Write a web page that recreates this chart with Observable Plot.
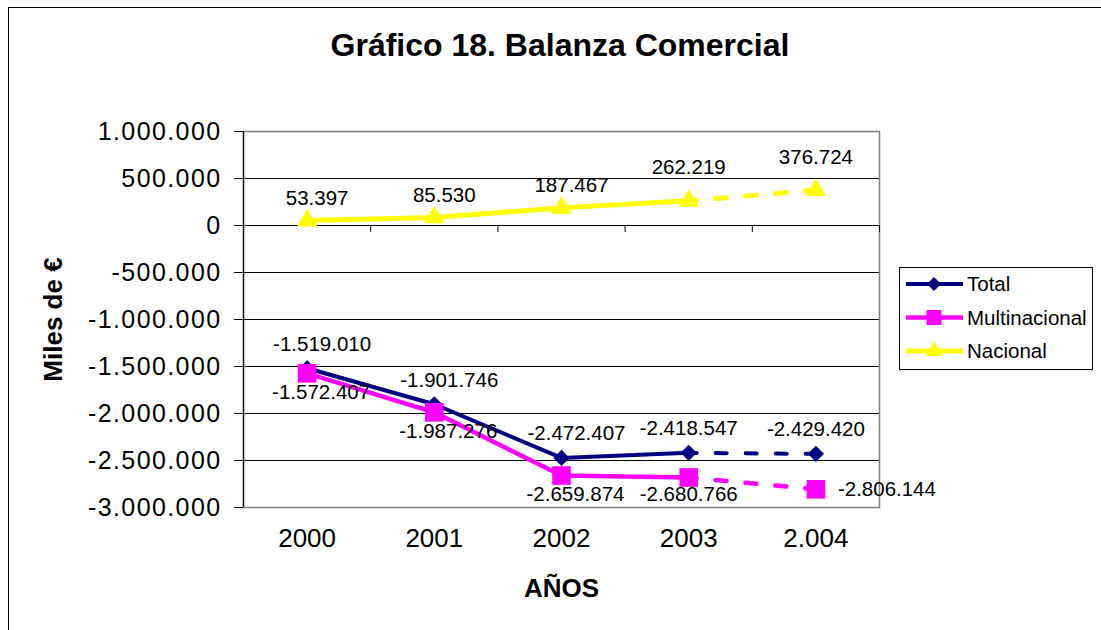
<!DOCTYPE html>
<html>
<head>
<meta charset="utf-8">
<script src="https://cdn.jsdelivr.net/npm/d3@7"></script>
<script src="https://cdn.jsdelivr.net/npm/@observablehq/plot@0.6"></script>
<style>
  body { margin: 0; background: #fff; font-family: "Liberation Sans", Arial, sans-serif; }
  #wrap { position: relative; width: 1101px; height: 630px; overflow: hidden; background: #fff; }
  #outer { position: absolute; left: 8px; top: 7px; width: 1200px; height: 700px; border: 1px solid #000; box-sizing: border-box; }
  #title { position: absolute; left: 0; top: 25px; width: 1120px; text-align: center; font-weight: bold; font-size: 32px; line-height: 40px; color: #000; }
  #chart { position: absolute; left: 0; top: 100px; }
  #legend { position: absolute; left: 899px; top: 267px; }
  #chart g[aria-label="y-axis tick label"] text { letter-spacing: 1.4px; }
</style>
</head>
<body>
<div id="wrap">
  <div id="outer"></div>
  <div id="title">Gráfico 18. Balanza Comercial</div>
  <div id="chart"></div>
  <div id="legend"></div>
</div>
<script>
// ---- data ----
const years = ["2000", "2001", "2002", "2003", "2.004"];
const total = [-1519010, -1901746, -2472407, -2418547, -2429420];
const multinacional = [-1572407, -1987276, -2659874, -2680766, -2806144];
const nacional = [53397, 85530, 187467, 262219, 376724];
const seriesNames = ["Total", "Multinacional", "Nacional"];
const seriesColors = ["#000080", "#FF00FF", "#FFFF00"];
const yTicks = [1000000, 500000, 0, -500000, -1000000, -1500000, -2000000, -2500000, -3000000];
const yLabel = "Miles de €";
const xLabel = "AÑOS";

// ---- helpers ----
const fmt = d3.formatLocale({decimal: ",", thousands: ".", grouping: [3], currency: ["", "€"], minus: "-"}).format(",d");
const seriesValues = [total, multinacional, nacional];
const rows = [];
seriesValues.forEach((vals, s) => vals.forEach((v, i) => rows.push({serie: seriesNames[s], s, i, value: v})));
const bySerie = s => rows.filter(d => d.s === s);
const idx = years.map((_, i) => i);
const last = years.length - 1;
const boundaries = idx.map(i => i + 0.5);

const symbols = ["diamond2", "square", "triangle"];
const radii = [7.3, 10.5, 7.6];
const widths = [4, 4.5, 5];
const dash = "11,19";

function seriesMarks(s) {
  const data = bySerie(s);
  const c = seriesColors[s];
  return [
    Plot.line(data.filter(d => d.i <= last - 1), {x: "i", y: "value", stroke: c, strokeWidth: widths[s], strokeLinejoin: "round"}),
    Plot.line(data.filter(d => d.i >= last - 1), {x: "i", y: "value", stroke: c, strokeWidth: widths[s], strokeDasharray: dash, strokeDashoffset: 3}),
    Plot.dot(data, {x: "i", y: "value", symbol: symbols[s], r: radii[s], fill: c, stroke: "none"})
  ];
}
const lab = {fontSize: 20.5, fill: "#000", text: d => fmt(d.value), x: "i", y: "value"};

const chart = Plot.plot({
  width: 1101,
  height: 530,
  marginLeft: 243,
  marginRight: 222,
  marginTop: 31,
  marginBottom: 123,
  style: {background: "transparent", fontFamily: "Liberation Sans, Arial, sans-serif", color: "#000", overflow: "visible"},
  x: {domain: [-0.5, years.length - 0.5], axis: null},
  y: {domain: [d3.min(yTicks), d3.max(yTicks)], axis: null},
  marks: [
    Plot.ruleY(yTicks, {stroke: "#000", strokeWidth: 1}),
    Plot.frame({stroke: "#808080", strokeWidth: 1.5}),
    Plot.ruleX([-0.5], {stroke: "#000", strokeWidth: 1.2}),
    Plot.ruleX(boundaries, {y1: 0, y2: 0, insetBottom: -7, stroke: "#000"}),
    Plot.axisY({ticks: yTicks, tickFormat: fmt, tickSize: 9, tickPadding: 13, fontSize: 25, label: null}),
    Plot.axisX({ticks: idx, tickFormat: i => years[i], tickSize: 0, tickPadding: 21, fontSize: 26, label: null}),
    Plot.text([xLabel], {frameAnchor: "bottom", textAnchor: "middle", lineAnchor: "middle", dy: 81, fontSize: 26, fontWeight: "bold"}),
    Plot.text([yLabel], {frameAnchor: "left", textAnchor: "middle", lineAnchor: "middle", rotate: -90, dx: -190, fontSize: 26, fontWeight: "bold"}),
    ...seriesMarks(0),
    ...seriesMarks(1),
    ...seriesMarks(2),
    // Total labels (above)
    Plot.text(bySerie(0).filter(d => d.i <= 2), {...lab, dx: 15, dy: -24}),
    Plot.text(bySerie(0).filter(d => d.i > 2), {...lab, dx: 0, dy: -24}),
    // Multinacional labels (below / right)
    Plot.text(bySerie(1).filter(d => d.i <= 2), {...lab, dx: 14, dy: 19}),
    Plot.text(bySerie(1).filter(d => d.i > 2 && d.i < last), {...lab, dx: 0, dy: 17}),
    Plot.text(bySerie(1).filter(d => d.i === last), {...lab, dx: 22, dy: 0, textAnchor: "start"}),
    // Nacional labels (above)
    Plot.text(bySerie(2).filter(d => d.i <= 2), {...lab, dx: 10, dy: -22}),
    Plot.text(bySerie(2).filter(d => d.i > 2), {...lab, dx: 0, dy: -33})
  ]
});
document.getElementById("chart").appendChild(chart);

// ---- legend ----
const lw = 194, lh = 103;
const leg = d3.create("svg").attr("width", lw).attr("height", lh).style("overflow", "visible");
leg.append("rect").attr("x", 0.5).attr("y", 0.5).attr("width", lw - 1).attr("height", lh - 1)
  .attr("fill", "#fff").attr("stroke", "#000").attr("stroke-width", 1);
const d3sym = [d3.symbolDiamond2, d3.symbolSquare, d3.symbolTriangle];
const legSizes = [125, 225, 125];
seriesNames.forEach((name, s) => {
  const y = 17 + s * 33.5;
  const g = leg.append("g");
  g.append("line").attr("x1", 7).attr("x2", 64).attr("y1", y).attr("y2", y)
    .attr("stroke", seriesColors[s]).attr("stroke-width", widths[s]);
  g.append("path").attr("d", d3.symbol(d3sym[s], legSizes[s])()).attr("transform", `translate(35,${y})`)
    .attr("fill", seriesColors[s]);
  g.append("text").attr("x", 68).attr("y", y).attr("dy", "0.35em").attr("font-size", 20.5)
    .attr("font-family", "Liberation Sans, Arial, sans-serif").attr("fill", "#000").text(name);
});
document.getElementById("legend").appendChild(leg.node());
</script>
</body>
</html>
